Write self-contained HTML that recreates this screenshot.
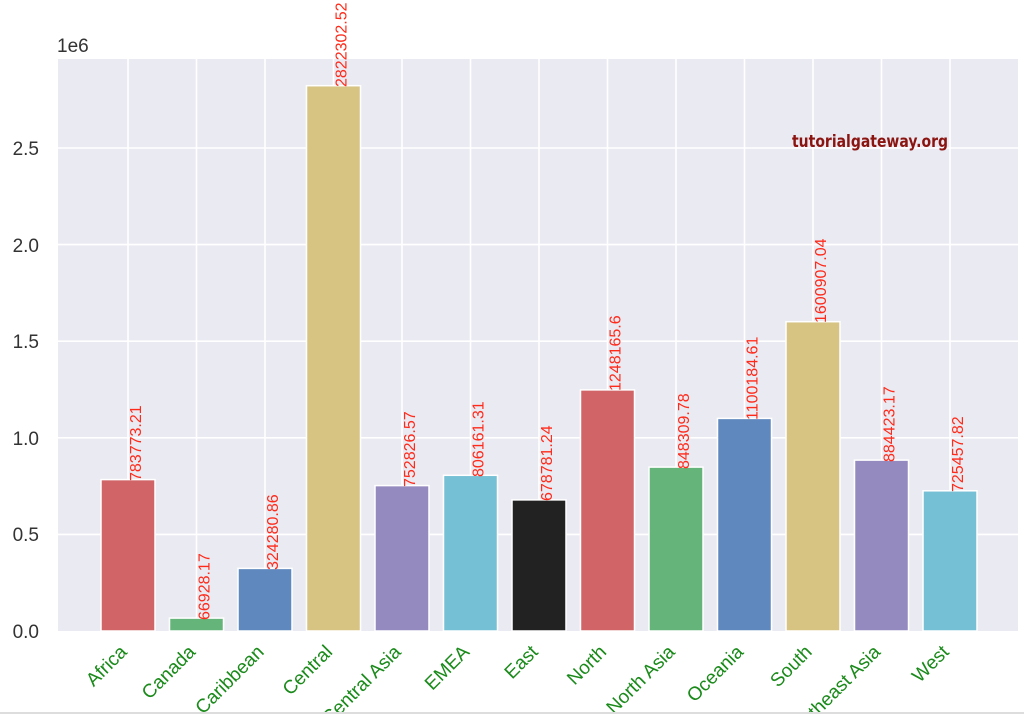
<!DOCTYPE html>
<html><head><style>body{margin:0;background:#fff}svg{display:block}</style></head><body>
<svg width="1024" height="714" xmlns="http://www.w3.org/2000/svg" font-family="Liberation Sans, sans-serif">
<rect x="58" y="59" width="960" height="572" fill="#eaeaf2"/>
<g stroke="#fff" stroke-width="1.6">
<line x1="58" x2="1018" y1="534.4" y2="534.4"/><line x1="58" x2="1018" y1="437.8" y2="437.8"/><line x1="58" x2="1018" y1="341.2" y2="341.2"/><line x1="58" x2="1018" y1="244.6" y2="244.6"/><line x1="58" x2="1018" y1="148" y2="148"/>
<line x1="128" x2="128" y1="59" y2="631"/><line x1="196.5" x2="196.5" y1="59" y2="631"/><line x1="265" x2="265" y1="59" y2="631"/><line x1="333.5" x2="333.5" y1="59" y2="631"/><line x1="402" x2="402" y1="59" y2="631"/><line x1="470.5" x2="470.5" y1="59" y2="631"/><line x1="539" x2="539" y1="59" y2="631"/><line x1="607.5" x2="607.5" y1="59" y2="631"/><line x1="676" x2="676" y1="59" y2="631"/><line x1="744.5" x2="744.5" y1="59" y2="631"/><line x1="813" x2="813" y1="59" y2="631"/><line x1="881.5" x2="881.5" y1="59" y2="631"/><line x1="950" x2="950" y1="59" y2="631"/>
</g>
<g stroke="#fff" stroke-width="1.5">
<rect x="101" y="479.6" width="54" height="151.4" fill="#d06466"/>
<rect x="169.5" y="618.1" width="54" height="12.9" fill="#65b57a"/>
<rect x="238" y="568.4" width="54" height="62.6" fill="#5e88be"/>
<rect x="306.5" y="85.7" width="54" height="545.3" fill="#d7c483"/>
<rect x="375" y="485.6" width="54" height="145.4" fill="#948abf"/>
<rect x="443.5" y="475.3" width="54" height="155.7" fill="#76c0d5"/>
<rect x="512" y="499.9" width="54" height="131.1" fill="#222"/>
<rect x="580.5" y="389.9" width="54" height="241.1" fill="#d06466"/>
<rect x="649" y="467.1" width="54" height="163.9" fill="#65b57a"/>
<rect x="717.5" y="418.4" width="54" height="212.6" fill="#5e88be"/>
<rect x="786" y="321.7" width="54" height="309.3" fill="#d7c483"/>
<rect x="854.5" y="460.1" width="54" height="170.9" fill="#948abf"/>
<rect x="923" y="490.8" width="54" height="140.2" fill="#76c0d5"/>
</g>
<g fill="#ff2a1a" font-size="16">
<text transform="translate(141,481) rotate(-90)">783773.21</text>
<text transform="translate(209.5,620) rotate(-90)">66928.17</text>
<text transform="translate(278,570) rotate(-90)">324280.86</text>
<text transform="translate(346.5,87) rotate(-90)">2822302.52</text>
<text transform="translate(415,487) rotate(-90)">752826.57</text>
<text transform="translate(483.5,477) rotate(-90)">806161.31</text>
<text transform="translate(552,501) rotate(-90)">678781.24</text>
<text transform="translate(620.5,391) rotate(-90)">1248165.6</text>
<text transform="translate(689,469) rotate(-90)">848309.78</text>
<text transform="translate(757.5,420) rotate(-90)">1100184.61</text>
<text transform="translate(826,323) rotate(-90)">1600907.04</text>
<text transform="translate(894.5,462) rotate(-90)">884423.17</text>
<text transform="translate(963,492) rotate(-90)">725457.82</text>
</g>
<g fill="#333" font-size="19" text-anchor="end">
<text x="39" y="638">0.0</text><text x="39" y="541">0.5</text><text x="39" y="445">1.0</text><text x="39" y="348">1.5</text><text x="39" y="252">2.0</text><text x="39" y="155">2.5</text>
</g>
<text x="57" y="52" fill="#333" font-size="19">1e6</text>
<g fill="#1a8a1a" font-size="19" text-anchor="end">
<text transform="translate(128,653) rotate(-45)">Africa</text>
<text transform="translate(196.5,653) rotate(-45)">Canada</text>
<text transform="translate(265,653) rotate(-45)">Caribbean</text>
<text transform="translate(333.5,653) rotate(-45)">Central</text>
<text transform="translate(402,653) rotate(-45)">Central Asia</text>
<text transform="translate(470.5,653) rotate(-45)">EMEA</text>
<text transform="translate(539,653) rotate(-45)">East</text>
<text transform="translate(607.5,653) rotate(-45)">North</text>
<text transform="translate(676,653) rotate(-45)">North Asia</text>
<text transform="translate(744.5,653) rotate(-45)">Oceania</text>
<text transform="translate(813,653) rotate(-45)">South</text>
<text transform="translate(881.5,653) rotate(-45)">Southeast Asia</text>
<text transform="translate(950,653) rotate(-45)">West</text>
</g>
<text x="792" y="147" fill="#8b1410" font-size="17" font-weight="bold" font-family="DejaVu Sans, sans-serif" textLength="156" lengthAdjust="spacingAndGlyphs">tutorialgateway.org</text>
<rect x="0" y="712" width="1024" height="2" fill="#ddd"/>
</svg>
</body></html>
